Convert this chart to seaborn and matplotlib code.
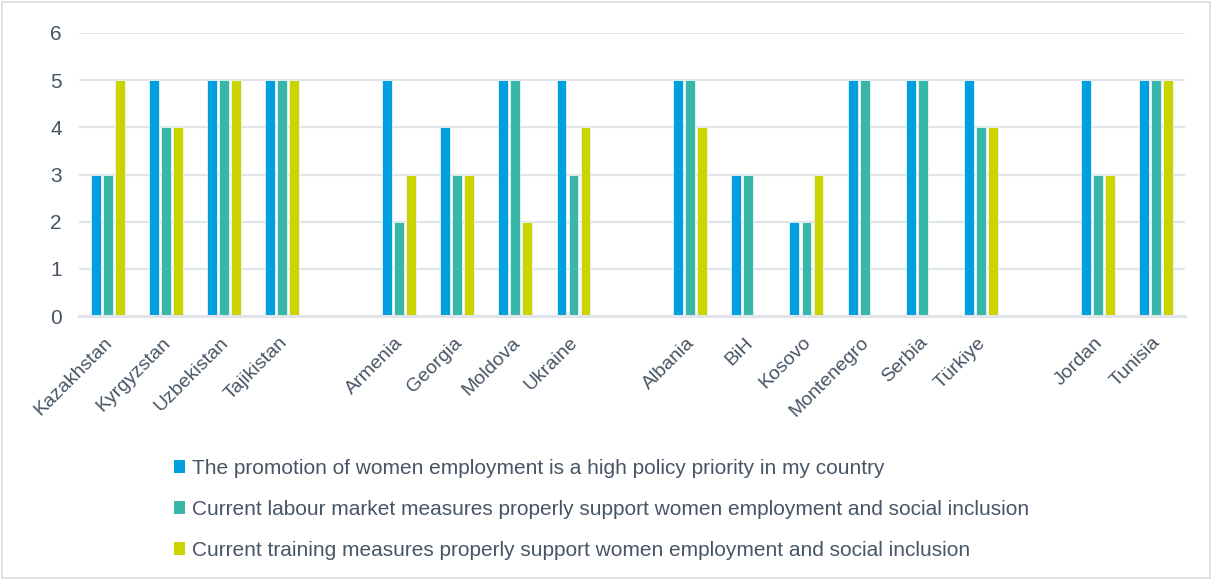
import numpy as np
import pandas as pd
import seaborn as sns
import matplotlib.pyplot as plt
import matplotlib.transforms as mtransforms
from matplotlib.patches import Patch, Rectangle

# Countries, with blank slots separating the regional groups
countries = ["Kazakhstan", "Kyrgyzstan", "Uzbekistan", "Tajikistan", " ",
             "Armenia", "Georgia", "Moldova", "Ukraine", "  ",
             "Albania", "BiH", "Kosovo", "Montenegro", "Serbia", "Türkiye", "   ",
             "Jordan", "Tunisia"]

series_names = [
    "The promotion of women employment is a high policy priority in my country",
    "Current labour market measures properly support women employment and social inclusion",
    "Current training measures properly support women employment and social inclusion",
]

nan = np.nan
policy_priority = [3, 5, 5, 5, nan, 5, 4, 5, 5, nan, 5, 3, 2, 5, 5, 5, nan, 5, 5]
labour_measures = [3, 4, 5, 5, nan, 2, 3, 5, 3, nan, 5, 3, 2, 5, 5, 4, nan, 3, 5]
training_measures = [5, 4, 5, 5, nan, 3, 3, 2, 4, nan, 4, nan, 3, nan, nan, 4, nan, 3, 5]

colors = ["#009FDF", "#38B6AA", "#CCD400"]
text_color = "#475566"
grid_color = "#E1E5EA"

rows = []
for name, vals in zip(series_names, [policy_priority, labour_measures, training_measures]):
    for c, v in zip(countries, vals):
        if not np.isnan(v):
            rows.append({"country": c, "score": v, "measure": name})
df = pd.DataFrame(rows)

sns.set_theme(style="white")
plt.rcParams["font.family"] = ["Liberation Sans", "DejaVu Sans"]

fig = plt.figure(figsize=(12.12, 5.79), dpi=100)
ax = fig.add_axes([78.5 / 1212, 1 - 316 / 579, (1185 - 78.5) / 1212, (316 - 33) / 579])

sns.barplot(data=df, x="country", y="score", hue="measure", order=countries,
            hue_order=series_names, palette=colors, saturation=1, width=0.62, gap=0.18,
            edgecolor="#EAF4F8", linewidth=0.6, ax=ax, legend=False)

ax.set_ylim(0, 6)
ax.set_xlim(-0.5, len(countries) - 0.5)
ax.set_yticks(range(0, 7))
ax.yaxis.grid(True, color=grid_color, linewidth=1.6)
ax.set_axisbelow(True)
for s in ["left", "right", "top"]:
    ax.spines[s].set_visible(False)
ax.spines["bottom"].set_color(grid_color)
ax.spines["bottom"].set_linewidth(2.2)
ax.set_xlabel("")
ax.set_ylabel("")
ax.tick_params(axis="y", length=0, pad=12, labelsize=15, labelcolor=text_color)
ax.tick_params(axis="x", length=0, pad=13, labelsize=14, labelcolor=text_color)
shift = mtransforms.ScaledTranslation(-4 / 100, 0, fig.dpi_scale_trans)
for lbl in ax.get_xticklabels():
    lbl.set_rotation(45)
    lbl.set_ha("right")
    lbl.set_rotation_mode("anchor")
    lbl.set_transform(lbl.get_transform() + shift)

handles = [Patch(facecolor=c, edgecolor="none") for c in colors]
fig.legend(handles, series_names, loc="upper left", bbox_to_anchor=(174 / 1212, 1 - 459 / 579),
           frameon=False, fontsize=15, labelcolor=text_color, handlelength=0.53,
           handleheight=0.53, handletextpad=0.33, labelspacing=1.05, borderaxespad=0,
           borderpad=0)

# light outer frame
fig.patches.append(Rectangle((0.002, 0.002), 0.996, 0.994, transform=fig.transFigure,
                             fill=False, edgecolor="#D9DDE2", linewidth=1.2))

fig.savefig("out.png", dpi=100)
